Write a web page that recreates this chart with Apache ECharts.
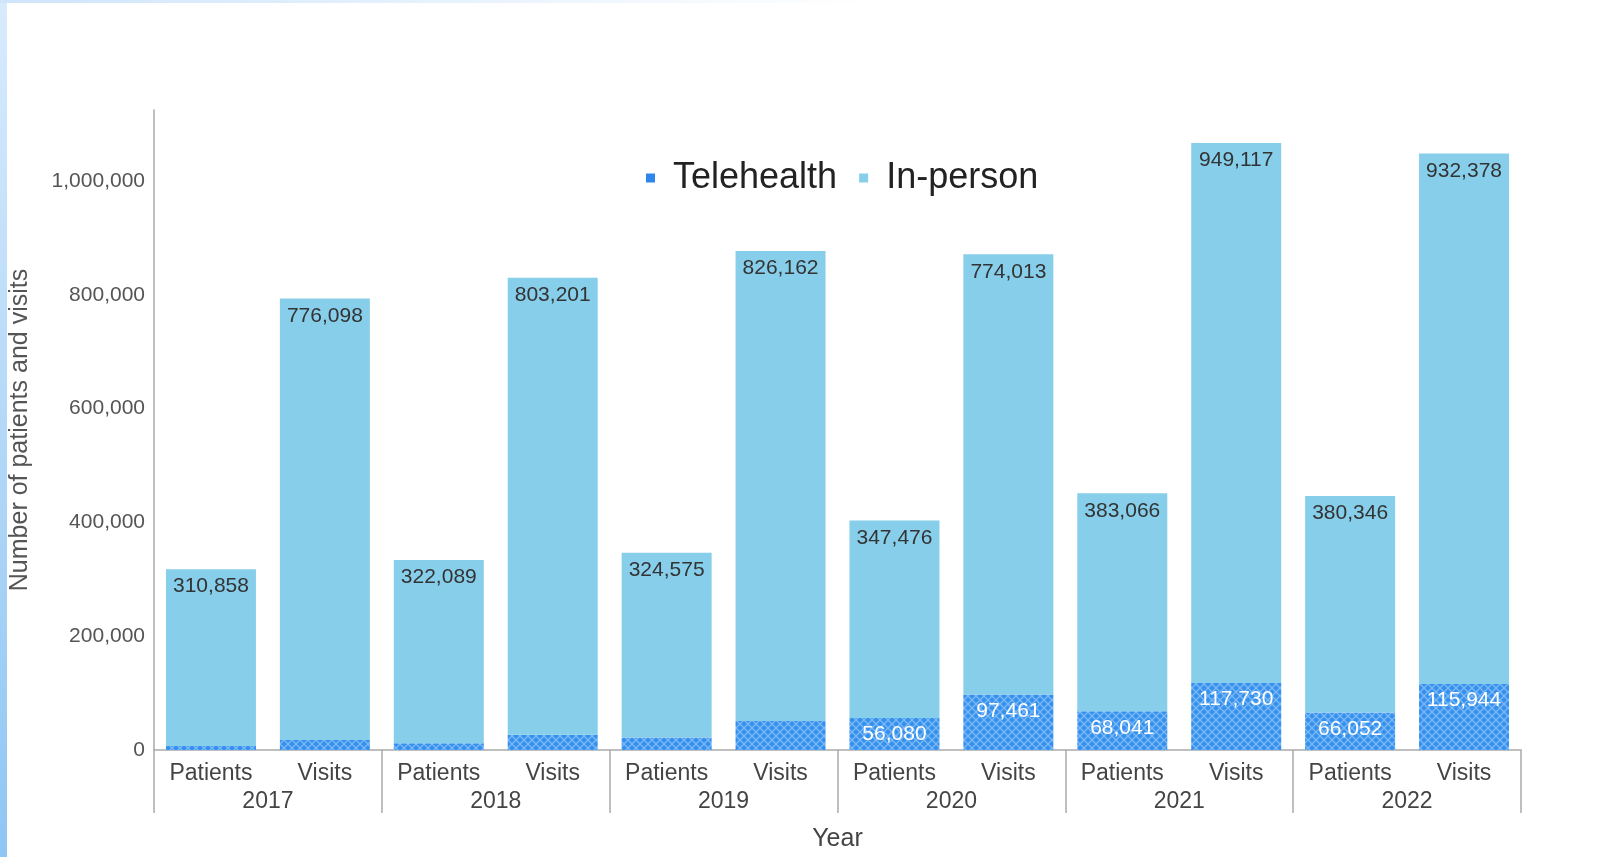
<!DOCTYPE html>
<html>
<head>
<meta charset="utf-8">
<script src="https://cdn.jsdelivr.net/npm/echarts@6/dist/echarts.min.js"></script>
<style>
html, body { margin: 0; padding: 0; background: #fff; }
#frame { position: relative; width: 1603px; height: 857px; overflow: hidden; }
#edgeLeft { position: absolute; left: 0; top: 0; width: 7px; height: 857px;
  background: linear-gradient(to bottom, #d8ebfc, #8fc6f3); }
#edgeTop { position: absolute; left: 0; top: 0; width: 1603px; height: 3px;
  background: linear-gradient(to right, #cfe5fb, #ffffff 55%); }
#chart { position: absolute; left: 0; top: 0; width: 1603px; height: 857px; }
</style>
</head>
<body>
<div id="frame">
  <div id="chart"></div>
  <div id="edgeLeft"></div>
  <div id="edgeTop"></div>
</div>
<script>
// bars: Patients / Visits per year
var kinds = ['Patients','Visits','Patients','Visits','Patients','Visits','Patients','Visits','Patients','Visits','Patients','Visits'];
var years = ['2017','2018','2019','2020','2021','2022'];
// telehealth for 2017-2019 has no label in the source
var telehealth = [7000, 17500, 12000, 27000, 22000, 51000, 56080, 97461, 68041, 117730, 66052, 115944];
var inPerson = [310858, 776098, 322089, 803201, 324575, 826162, 347476, 774013, 383066, 949117, 380346, 932378];
var yTicks = [0, 200000, 400000, 600000, 800000, 1000000];

var fmt = function (v) { return Number(v).toLocaleString('en-US'); };

// cross-hatch fill for telehealth
function hatch() {
  var c = document.createElement('canvas');
  c.width = 8; c.height = 8;
  var g = c.getContext('2d');
  g.fillStyle = '#3690ee';
  g.fillRect(0, 0, 8, 8);
  g.strokeStyle = '#7cbaf6';
  g.lineWidth = 1.3;
  g.beginPath();
  g.moveTo(0, 0); g.lineTo(8, 8);
  g.moveTo(8, 0); g.lineTo(0, 8);
  g.stroke();
  return c;
}

var myChart = echarts.init(document.getElementById('chart'));
var option = {
  animation: false,
  textStyle: { fontFamily: 'Liberation Sans, Arial, sans-serif' },
  legend: {
    top: 155,
    left: 641,
    icon: 'rect',
    itemWidth: 9,
    itemHeight: 9,
    itemGap: 22,
    textStyle: { fontSize: 36, color: '#222', padding: [0, 0, 0, 13] },
    data: [
      { name: 'Telehealth', itemStyle: { color: '#2f86ea' } },
      { name: 'In-person', itemStyle: { color: '#87ceeb' } }
    ]
  },
  grid: { left: 153, right: 82, top: 110, bottom: 107 },
  xAxis: [
    {
      type: 'category',
      data: kinds,
      axisLine: { lineStyle: { color: '#aaa', width: 1.5 } },
      axisTick: { show: false },
      axisLabel: { color: '#444', fontSize: 23, margin: 12, interval: 0 },
      name: 'Year',
      nameLocation: 'middle',
      nameGap: 77,
      nameTextStyle: { color: '#444', fontSize: 25 }
    },
    {
      type: 'category',
      data: years,
      position: 'bottom',
      axisLine: { show: false },
      axisTick: { show: true, length: 63, lineStyle: { color: '#aaa', width: 1.5 } },
      axisLabel: { color: '#444', fontSize: 23, margin: 40 }
    }
  ],
  yAxis: {
    type: 'value',
    min: 0,
    max: 1125000,
    interval: 200000,
    axisLine: { show: true, lineStyle: { color: '#aaa', width: 1.5 } },
    axisTick: { show: false },
    splitLine: { show: false },
    axisLabel: {
      color: '#555', fontSize: 21, margin: 9, showMaxLabel: false,
      formatter: function (v) { return yTicks.indexOf(v) >= 0 ? fmt(v) : ''; }
    },
    name: 'Number of patients and visits',
    nameLocation: 'middle',
    nameGap: 121,
    nameTextStyle: { color: '#555', fontSize: 25 }
  },
  series: [
    {
      name: 'Telehealth',
      type: 'bar',
      stack: 'total',
      barCategoryGap: '21%',
      data: telehealth,
      itemStyle: { color: { image: hatch(), repeat: 'repeat' } },
      label: {
        show: true,
        position: 'insideTop',
        distance: 6,
        color: '#fff',
        fontSize: 21,
        formatter: function (p) { return p.dataIndex < 6 ? '' : fmt(p.value); }
      }
    },
    {
      name: 'In-person',
      type: 'bar',
      stack: 'total',
      barCategoryGap: '21%',
      data: inPerson,
      itemStyle: { color: '#87ceeb' },
      label: {
        show: true,
        position: 'insideTop',
        distance: 7,
        color: '#333',
        fontSize: 21,
        formatter: function (p) { return fmt(p.value); }
      }
    }
  ]
};
option && myChart.setOption(option);
</script>
</body>
</html>
